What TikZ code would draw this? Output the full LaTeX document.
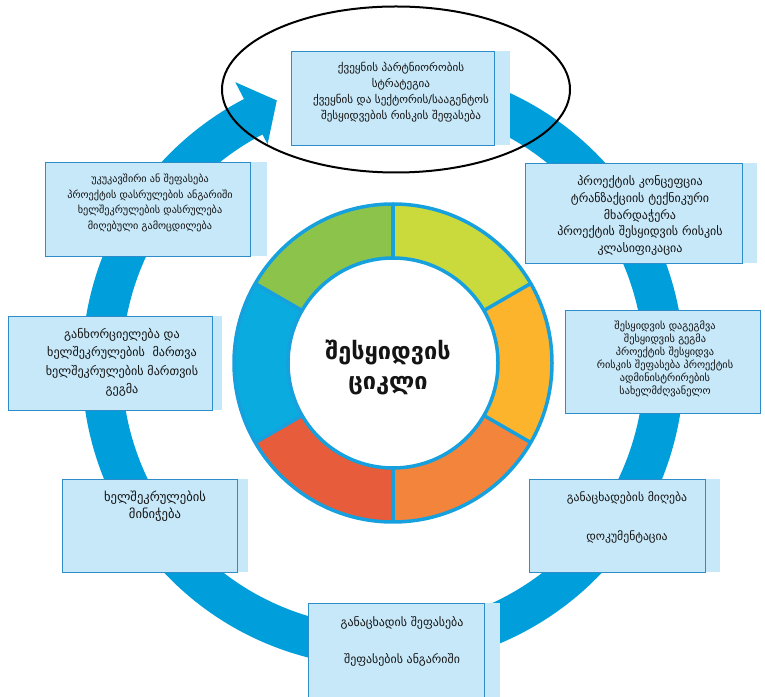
\documentclass[tikz,border=0pt]{standalone}
\usepackage{fontspec}
\setmainfont{DejaVu Sans}
\usetikzlibrary{shapes.geometric}
\definecolor{ringblue}{RGB}{0,158,219}
\definecolor{boxfill}{RGB}{199,232,249}
\definecolor{boxline}{RGB}{46,141,200}
\definecolor{dline}{RGB}{22,160,222}
\definecolor{segA}{RGB}{202,218,60}
\definecolor{segB}{RGB}{251,180,44}
\definecolor{segC}{RGB}{243,132,60}
\definecolor{segD}{RGB}{231,92,58}
\definecolor{segE}{RGB}{10,171,222}
\definecolor{segF}{RGB}{140,196,75}
\definecolor{txt}{RGB}{20,20,20}
\tikzset{
  boxmain/.style={draw=boxline, fill=boxfill, line width=1.1pt, inner sep=0pt, anchor=north west},
  boxstrip/.style={fill=boxfill, draw=none, inner sep=0pt, anchor=north west},
  lbl/.style={inner sep=0pt, align=center, text=txt},
  ringline/.style={draw=ringblue, line width=40pt},
  dl/.style={draw=dline, line width=3.5pt},
}
\newcommand{\seg}[3]{%
  \fill[#3] ([shift={(#1:159)}]D) arc[start angle=#1, end angle=#2, radius=159]
    -- ([shift={(#2:105)}]D) arc[start angle=#2, end angle=#1, radius=105] -- cycle;}
\begin{document}
\begin{tikzpicture}[x=1pt,y=1pt]
\useasboundingbox (0,0) rectangle (765,696);
\coordinate (C) at (383,330);
\coordinate (D) at (393,333);
% big ring with arrow
\draw[ringline] ([shift={(75:281)}]C) arc[start angle=75, end angle=-243, radius=281];
\fill[ringblue] ([shift={(117.5:320)}]C) -- ([shift={(111.8:286)}]C) -- ([shift={(117.5:250)}]C) -- cycle;
% donut
\seg{30}{90}{segA}
\seg{-30}{30}{segB}
\seg{-90}{-30}{segC}
\seg{-150}{-90}{segD}
\seg{150}{210}{segE}
\seg{90}{150}{segF}
\fill[white] (D) circle[radius=105];
\draw[dl] (D) circle[radius=159];
\draw[dl] (D) circle[radius=105];
\foreach \a in {90,30,-30,-90,-150,150}{
  \draw[dl] ([shift={(\a:105)}]D) -- ([shift={(\a:159)}]D);
}
\node[lbl, font=\bfseries\fontsize{23.5}{30}\selectfont] (tc) at (388,328) {შესყიდვის\\ციკლი};
% boxes
\node[boxstrip, minimum width=219, minimum height=94] (s1) at (291,645) {};
\node[boxmain, minimum width=203, minimum height=94] (b1) at (291,645) {};
\node[boxstrip, minimum width=222, minimum height=94] (s2) at (45,534) {};
\node[boxmain, minimum width=205, minimum height=94] (b2) at (45,534) {};
\node[boxstrip, minimum width=232, minimum height=100] (s3) at (525,533) {};
\node[boxmain, minimum width=217, minimum height=100] (b3) at (525,533) {};
\node[boxmain, minimum width=195, minimum height=103] (b4) at (565,386) {};
\node[boxstrip, minimum width=214, minimum height=94] (s5) at (8,380) {};
\node[boxmain, minimum width=204, minimum height=94] (b5) at (8,380) {};
\node[boxstrip, minimum width=186, minimum height=93] (s6) at (62,217) {};
\node[boxmain, minimum width=175, minimum height=93] (b6) at (62,217) {};
\node[boxstrip, minimum width=191, minimum height=93] (s7) at (529,217) {};
\node[boxmain, minimum width=176, minimum height=93] (b7) at (529,217) {};
\node[boxstrip, minimum width=192, minimum height=110] (s8) at (308,93) {};
\node[boxmain, minimum width=176, minimum height=110] (b8) at (308,93) {};
% texts
\node[lbl, font=\fontsize{11.1}{16.1}\selectfont] (t1) at (401,603.5)
  {ქვეყნის პარტნიორობის\\სტრატეგია\\ქვეყნის და სექტორის/სააგენტოს\\შესყიდვების რისკის შეფასება};
\node[lbl, font=\fontsize{10.2}{15.5}\selectfont] (t2) at (150,493)
  {უკუკავშირი ან შეფასება\\პროექტის დასრულების ანგარიში\\ხელშეკრულების დასრულება\\მიღებული გამოცდილება};
\node[lbl, font=\fontsize{12}{16.7}\selectfont] (t3) at (640,480.5)
  {პროექტის კონცეფცია\\ტრანზაქციის ტექნიკური\\მხარდაჭერა\\პროექტის შესყიდვის რისკის\\კლასიფიკაცია};
\node[lbl, font=\fontsize{10.3}{12.9}\selectfont] (t4) at (665,337.2)
  {შესყიდვის დაგეგმვა\\შესყიდვის გეგმა\\პროექტის შესყიდვა\\რისკის შეფასება პროექტის\\ადმინისტრირების\\სახელმძღვანელო};
\node[lbl, font=\fontsize{12.1}{18.3}\selectfont] (t5) at (122,333.5)
  {განხორციელება და\\ხელშეკრულების~ მართვა\\ხელშეკრულების მართვის\\გეგმა};
\node[lbl, font=\fontsize{12.6}{17}\selectfont] (t6) at (155,189.5)
  {ხელშეკრულების\\მინიჭება};
\node[lbl, font=\fontsize{11.7}{19.5}\selectfont] (t7) at (627,178.5)
  {განაცხადების მიღება\\[19.5pt]დოკუმენტაცია};
\node[lbl, font=\fontsize{11.9}{18.5}\selectfont] (t8) at (402,54.5)
  {განაცხადის შეფასება\\[18.5pt]შეფასების ანგარიში};
% ellipse
\node[draw=black, line width=2pt, ellipse, minimum width=348, minimum height=166, inner sep=0pt] (el) at (396,606.5) {};
\end{tikzpicture}
\end{document}
